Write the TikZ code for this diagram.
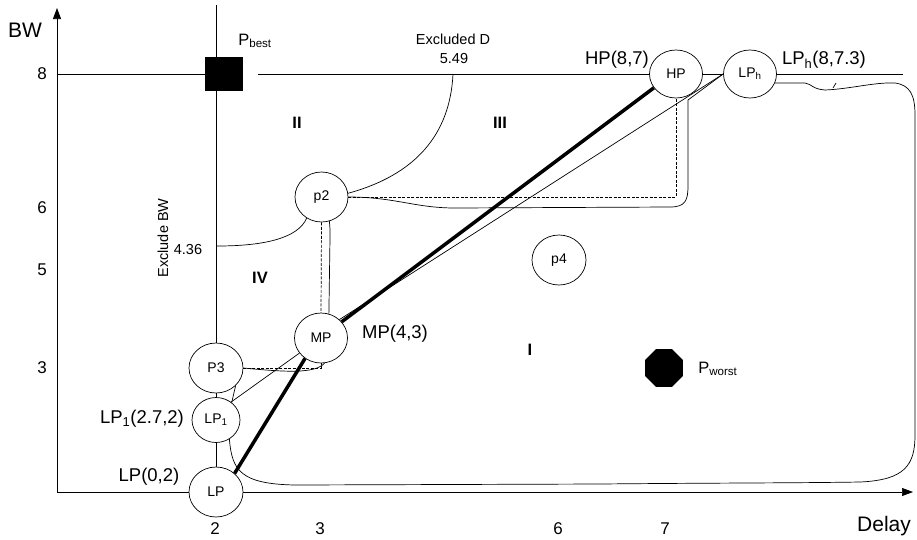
\documentclass[tikz,border=0pt]{standalone}
\usepackage{fontspec}
\setmainfont{Liberation Sans}
\usetikzlibrary{shapes.geometric,arrows.meta}
\begin{document}
\begin{tikzpicture}[x=1pt,y=-1pt, line width=0.7pt,
  pt/.style={ellipse, draw, fill=white, inner sep=0pt, minimum width=54pt, minimum height=50pt, font=\fontsize{14}{16}\selectfont},
  lbl/.style={font=\fontsize{18.5}{21}\selectfont, inner sep=0pt},
  tick/.style={font=\fontsize{17}{19}\selectfont, inner sep=0pt},
  reg/.style={font=\bfseries\fontsize{16.5}{18}\selectfont, inner sep=0pt},
  small/.style={font=\fontsize{14.5}{16}\selectfont, inner sep=0pt},
  dsh/.style={dash pattern=on 3pt off 1.5pt},
  heavy/.style={line width=3.5pt},
  tip/.style={-{Triangle[length=11pt,width=8pt]}}
]
\useasboundingbox (0,0) rectangle (917,539);

% nodes
\node[pt] (LP) at (216,492) {LP};
\node[pt, minimum width=48pt, minimum height=45pt] (LP1) at (216,420) {LP\textsubscript{1}};
\node[pt] (P3) at (216,368) {P3};
\node[pt, minimum width=53pt] (MP) at (321,338) {MP};
\node[pt, minimum width=53pt] (p2) at (321.5,197) {p2};
\node[pt, minimum width=53pt, minimum height=48pt] (HP) at (676,74) {HP};
\node[pt, minimum width=53pt, minimum height=48pt] (LPh) at (750,74) {LP\textsubscript{h}};
\node[pt] (p4) at (559,260) {p4};
\node[fill, minimum width=38pt, minimum height=34pt, inner sep=0pt] (pb) at (224,74) {};
\node[regular polygon, regular polygon sides=8, fill, minimum size=41pt, inner sep=0pt] (pw) at (664,368) {};

% coordinates
\coordinate (o) at (57,492);
\coordinate (xend) at (913,492);
\coordinate (yend) at (57,8);
\coordinate (vtop) at (0,5);
\coordinate (hl) at (57,74);
\coordinate (hg) at (258,74);
\coordinate (hr) at (903,74);
\coordinate (ed) at (453,74);
\coordinate (eb) at (217,246);

% axes
\draw[tip] (o) -- (yend);
\draw (o) -- (LP.west);
\draw[tip] (LP.east) -- (xend);

% grid lines BW=8 and Delay=2
\draw (hl) -- (pb.west);
\draw (hg) -- (HP.west);
\draw (HP.east) -- (LPh.west);
\draw (LPh.east) -- (hr);
\draw (P3.north |- vtop) -- (P3.north |- pb.north);
\draw (P3.north |- pb.south) -- (P3.north);

% exclusion curves
\draw (ed) .. controls (450,135) and (415,175) .. (p2.8);
\draw (eb) .. controls (265,246) and (298,238) .. (p2.235);

% thick path
\draw[heavy] (LP.45) -- (MP.232);
\draw[heavy] (MP.38) -- (HP.212);

% thin connectors
\draw (LP1.50) -- (MP.215);
\draw (MP.45) -- (LPh.west);
\draw (P3.south) -- (LP1.north);
\draw (P3.-42) -- (LP1.48);
\draw (LP1.south) -- (LP.north);

% dashed paths
\draw[dsh] (p2.east) -- (p2.east -| HP.south) -- (HP.south);
\draw[dsh] (p2.south) -- (MP.north);
\draw[dsh] (P3.east) -- (P3.east -| MP.south) -- (MP.south);

% solid boundary curves
\draw (p2.288) .. controls (330,228) .. (330,238) -- (MP.72);
\draw (P3.east) .. controls (285,372) and (315,374) .. (MP.278);
\draw (p2.east) .. controls (395,197) and (415,208) .. (455,208) -- (670,207)
      .. controls (686,207) and (688,200) .. (688,185) -- (688,100) -- (LPh.west);
\draw (LP1.-55) .. controls (232,470) and (240,484) .. (295,485) -- (600,484)
      .. controls (700,483) and (800,483) .. (860,482)
      .. controls (905,480) and (915,465) .. (915,435) -- (915,115)
      .. controls (915,95) and (910,85) .. (895,83)
      .. controls (875,82) and (850,89) .. (825,90)
      .. controls (812,89) and (812,84) .. (805,83) -- (LPh.-20);
\draw (833,88) -- (836,83);

% axis labels
\node[font=\fontsize{21}{24}\selectfont, inner sep=0pt] (bw) at (25,30) {BW};
\node[font=\fontsize{21}{24}\selectfont, inner sep=0pt] (dl) at (884,526) {Delay};
\node[tick] (y8) at (42,74) {8};
\node[tick] (y6) at (42,208) {6};
\node[tick] (y5) at (42,270) {5};
\node[tick] (y3) at (42,368) {3};
\node[tick] (x2) at (215,529) {2};
\node[tick] (x3) at (320,529) {3};
\node[tick] (x6) at (558,529) {6};
\node[tick] (x7) at (665,529) {7};

% text labels
\node[font=\fontsize{16.5}{18}\selectfont, inner sep=0pt, anchor=west] (pbl) at (238,41) {P\textsubscript{best}};
\node[font=\fontsize{16.5}{18}\selectfont, inner sep=0pt, anchor=west] (pwl) at (698,369) {P\textsubscript{worst}};
\node[small] (exd) at (453,39) {Excluded D};
\node[small] (v549) at (454,59) {5.49};
\node[small, rotate=90] (exbw) at (163,238) {Exclude BW};
\node[small] (v436) at (188,249) {4.36};
\node[reg] (r2) at (297,123) {II};
\node[reg] (r3) at (500,123) {III};
\node[reg] (r4) at (260,278) {IV};
\node[reg] (r1) at (530,350) {I};
\node[lbl] (hpl) at (617,60) {HP(8,7)};
\node[lbl] (lphl) at (824,60) {LP\textsubscript{h}(8,7.3)};
\node[lbl] (mpl) at (395,334) {MP(4,3)};
\node[lbl] (lp1l) at (142,419) {LP\textsubscript{1}(2.7,2)};
\node[lbl] (lpl) at (149,477) {LP(0,2)};
\end{tikzpicture}
\end{document}
